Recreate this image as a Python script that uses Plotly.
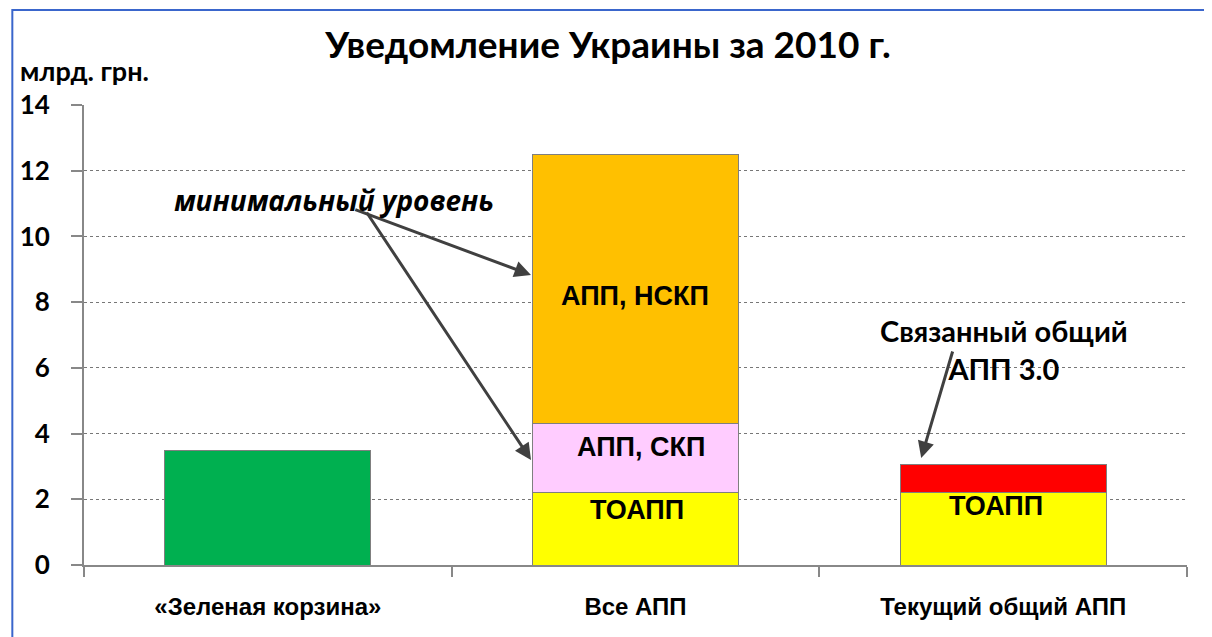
import plotly.graph_objects as go

categories = ["«Зеленая корзина»", "Все АПП", "Текущий общий АПП"]
green_basket = [3.5, None, None]
toapp = [None, 2.2, 2.2]
app_skp = [None, 2.1, None]
app_nskp = [None, 8.2, None]
linked_app = [None, None, 0.85]
y_ticks = [0, 2, 4, 6, 8, 10, 12, 14]

title_text = "Уведомление Украины за 2010 г."
unit_text = "млрд. грн."

W, H = 1212, 637
OFF = 8  # page body margin
PL, PT = 79, 105          # plot area left/top in page pixels
pw, ph = 1108, 460
L, T = PL - OFF, PT - OFF
R, B = W - L - pw, H - T - ph

fig = go.Figure()
line = dict(color="#7f7f7f", width=1)
for name, vals, color in [
    ("«Зеленая корзина»", green_basket, "#00b050"),
    ("ТОАПП", toapp, "#ffff00"),
    ("АПП, СКП", app_skp, "#ffccff"),
    ("АПП, НСКП", app_nskp, "#ffc000"),
    ("Связанный общий АПП", linked_app, "#ff0000"),
]:
    fig.add_trace(go.Bar(x=categories, y=vals, name=name,
                         marker=dict(color=color, line=line), width=0.56))

def px_x(px):
    return (px - PL) / pw * 3 - 0.5

def px_y(py):
    return (PT + ph - py) / ph * 14

SANS = "Liberation Sans, Arial, sans-serif"
CAL = "Lato, Open Sans, sans-serif"
lab_font = dict(family=SANS, size=27, color="#000", weight="bold")

ann = []
for text, x, y in [("АПП, НСКП", 632, 296), ("АПП, СКП", 639, 447),
                   ("ТОАПП", 634, 510), ("ТОАПП", 995, 506)]:
    ann.append(dict(x=px_x(x), y=px_y(y), xref="x", yref="y", text=text,
                    showarrow=False, font=lab_font))
for (tx, ty), (hx, hy) in [((350, 209), (528, 275)), ((362, 211), (528, 460)),
                           ((952, 350), (920, 458))]:
    ann.append(dict(x=px_x(hx), y=px_y(hy), ax=px_x(tx), ay=px_y(ty),
                    xref="x", yref="y", axref="x", ayref="y", text="",
                    showarrow=True, arrowhead=2, arrowsize=1.1, arrowwidth=3,
                    arrowcolor="#404040"))
ann.append(dict(x=px_x(330), y=px_y(200), xref="x", yref="y",
                text="<i>минимальный уровень</i>", showarrow=False,
                font=dict(family="Open Sans, Lato, sans-serif", size=28, color="#000", weight="bold")))
ann.append(dict(x=px_x(1003), y=px_y(349), xref="x", yref="y",
                text="Связанный общий<br>АПП 3.0", showarrow=False,
                font=dict(family=CAL, size=29, color="#000", weight="bold")))
ann.append(dict(x=(14 - PL) / pw, y=(PT + ph - 71) / ph, xref="paper", yref="paper",
                xanchor="left", yanchor="middle", text=unit_text, borderpad=0,
                showarrow=False, font=dict(family=CAL, size=27, color="#000", weight="bold")))

fig.update_layout(
    width=W, height=H,
    margin=dict(l=L, r=R, t=T, b=B, pad=0),
    paper_bgcolor="white", plot_bgcolor="white",
    barmode="stack", bargap=0.44, showlegend=False,
    title=dict(text=title_text, x=(608 - OFF) / W, xanchor="center",
               y=1 - (45 - OFF) / H, yanchor="middle",
               font=dict(family=CAL, size=37, color="#000", weight="bold")),
    annotations=ann,
    shapes=[dict(type="rect", xref="paper", yref="paper",
                 x0=(7 - PL) / pw, x1=1.2, y0=-0.3, y1=(PT + ph - 10) / ph,
                 line=dict(color="#3a66cc", width=2), fillcolor="rgba(0,0,0,0)",
                 layer="below")],
)
fig.update_xaxes(showline=True, linecolor="#888", linewidth=2, tickson="boundaries",
                 ticks="outside", ticklen=10, tickcolor="#888", tickwidth=2,
                 showgrid=False, range=[-0.5, 2.5], ticklabelstandoff=19,
                 tickfont=dict(family=SANS, size=24, color="#000", weight="bold"))
fig.update_yaxes(range=[0, 14], tickvals=y_ticks, showline=True, linecolor="#888", linewidth=2,
                 ticks="outside", ticklen=11, tickcolor="#888", tickwidth=2,
                 showgrid=True, gridcolor="#777", griddash="dot", gridwidth=1.2,
                 zeroline=False, ticklabelstandoff=16,
                 tickfont=dict(family=CAL, size=26, color="#000", weight="bold"))

fig.write_html("out.html")
